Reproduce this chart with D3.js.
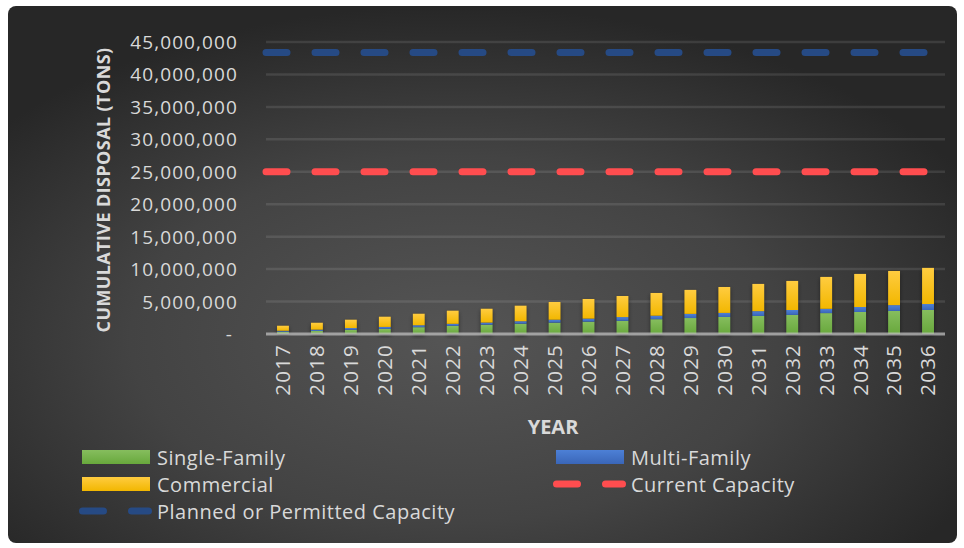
<!DOCTYPE html>
<html>
<head>
<meta charset="utf-8">
<script src="https://cdn.jsdelivr.net/npm/d3@7/dist/d3.min.js"></script>
<style>
  html, body { margin: 0; padding: 0; background: #ffffff; }
  svg { display: block; }
  text { font-family: "Open Sans", "Noto Sans", sans-serif; fill: #d9d9d9; }
</style>
</head>
<body>
<svg id="chart" width="964" height="548"></svg>
<script>
// ---- data (tons) ----
const years = ["2017","2018","2019","2020","2021","2022","2023","2024","2025","2026",
               "2027","2028","2029","2030","2031","2032","2033","2034","2035","2036"];
const singleFamily = [350000, 470000, 640000, 780000, 1050000, 1250000, 1430000, 1590000, 1750000, 1900000,
                      2030000, 2280000, 2460000, 2620000, 2780000, 2940000, 3220000, 3390000, 3550000, 3700000];
const multiFamily  = [150000, 200000, 280000, 310000, 300000, 320000, 330000, 380000, 450000, 470000,
                      580000, 540000, 640000, 630000, 740000, 760000, 660000, 770000, 900000, 920000];
const commercial   = [780000, 1070000, 1290000, 1580000, 1780000, 2030000, 2140000, 2400000, 2740000, 3030000,
                      3250000, 3510000, 3700000, 4000000, 4200000, 4480000, 4920000, 5100000, 5270000, 5570000];
const currentCapacity = 25000000;
const plannedCapacity = 43400000;
const yTicks = [0, 5000000, 10000000, 15000000, 20000000, 25000000, 30000000, 35000000, 40000000, 45000000];

const svg = d3.select("#chart");
const defs = svg.append("defs");

// background gradient
const bg = defs.append("radialGradient").attr("id", "bgGrad")
  .attr("cx", "47%").attr("cy", "62%").attr("r", "62%");
bg.append("stop").attr("offset", "0%").attr("stop-color", "#555555");
bg.append("stop").attr("offset", "55%").attr("stop-color", "#434343");
bg.append("stop").attr("offset", "100%").attr("stop-color", "#272727");

function vgrad(id, top, bottom) {
  const g = defs.append("linearGradient").attr("id", id)
    .attr("x1", 0).attr("y1", 0).attr("x2", 0).attr("y2", 1);
  g.append("stop").attr("offset", "0%").attr("stop-color", top);
  g.append("stop").attr("offset", "100%").attr("stop-color", bottom);
}
vgrad("gGreen", "#86bd5e", "#68a83c");
vgrad("gBlue", "#4d80d6", "#3a66b8");
vgrad("gYellow", "#ffcc40", "#f2b700");

const shadow = defs.append("filter").attr("id", "shadow")
  .attr("x", "-50%").attr("y", "-10%").attr("width", "200%").attr("height", "130%");
shadow.append("feDropShadow").attr("dx", 0).attr("dy", 2).attr("stdDeviation", 2)
  .attr("flood-color", "#000").attr("flood-opacity", 0.45);

svg.append("rect").attr("x", 8).attr("y", 6).attr("width", 949).attr("height", 537)
  .attr("rx", 8).attr("fill", "url(#bgGrad)");

// scales
const x = d3.scaleBand().domain(years).range([266, 945]).paddingInner(0.65).paddingOuter(0.325);
const y = d3.scaleLinear().domain([0, 45000000]).range([334, 42]);

// gridlines
svg.append("g").selectAll("line").data(yTicks.filter(d => d > 0)).join("line")
  .attr("x1", x.range()[0]).attr("x2", x.range()[1])
  .attr("y1", d => y(d)).attr("y2", d => y(d))
  .attr("stroke", "#ffffff").attr("stroke-opacity", 0.1).attr("stroke-width", 2.5);

// y axis labels
const fmt = d3.format(",");
const yAxis = d3.axisLeft(y).tickValues(yTicks).tickSize(0).tickPadding(0)
  .tickFormat(d => d === 0 ? "-" : fmt(d));
const yg = svg.append("g").attr("transform", "translate(238,0)").call(yAxis);
yg.select(".domain").remove();
yg.selectAll("text").attr("font-size", 19).attr("letter-spacing", 1.1)
  .attr("fill", "#d9d9d9").style("font-family", "'Open Sans', sans-serif")
  .attr("dy", "0.34em")
  .attr("x", d => d === 0 ? -5 : 0);

// stacked bars
const table = years.map((yr, i) => ({ year: yr, sf: singleFamily[i], mf: multiFamily[i], com: commercial[i] }));
const stack = d3.stack().keys(["sf", "mf", "com"])(table);
const fills = ["url(#gGreen)", "url(#gBlue)", "url(#gYellow)"];

const barsG = svg.append("g");
barsG.selectAll("rect.sh").data(table).join("rect").attr("class", "sh")
  .attr("x", d => x(d.year)).attr("width", x.bandwidth())
  .attr("y", d => y(d.sf + d.mf + d.com)).attr("height", d => y(0) - y(d.sf + d.mf + d.com))
  .attr("fill", "#333").attr("filter", "url(#shadow)");
stack.forEach((layer, li) => {
  barsG.selectAll("rect.l" + li).data(layer).join("rect").attr("class", "l" + li)
    .attr("x", d => x(d.data.year)).attr("width", x.bandwidth())
    .attr("y", d => y(d[1])).attr("height", d => y(d[0]) - y(d[1]))
    .attr("fill", fills[li]);
});

// baseline
svg.append("line").attr("x1", x.range()[0]).attr("x2", x.range()[1])
  .attr("y1", y(0)).attr("y2", y(0))
  .attr("stroke", "#bdbdbd").attr("stroke-opacity", 0.75).attr("stroke-width", 3);

// capacity lines
const lines = [
  { key: "Current Capacity", v: currentCapacity, color: "#ff4d4f" },
  { key: "Planned or Permitted Capacity", v: plannedCapacity, color: "#264a84" }
];
const lineGen = d3.line().x(d => d[0]).y(d => d[1]);
lines.forEach(l => {
  svg.append("path")
    .attr("d", lineGen([[x.range()[0], y(l.v)], [x.range()[1], y(l.v)]]))
    .attr("stroke", l.color).attr("stroke-width", 7).attr("stroke-linecap", "round")
    .attr("stroke-dasharray", "21 28").attr("fill", "none");
});

// x axis labels
const xAxis = d3.axisBottom(x).tickSize(0).tickPadding(0);
const xg = svg.append("g").attr("transform", `translate(0,${y(0)})`).call(xAxis);
xg.select(".domain").remove();
xg.selectAll("text").attr("font-size", 20.5).attr("letter-spacing", 1.2)
  .attr("fill", "#d9d9d9").style("font-family", "'Open Sans', sans-serif")
  .attr("text-anchor", "end").attr("transform", "rotate(-90)")
  .attr("x", -10).attr("y", 0).attr("dy", "0.36em");

// axis titles
svg.append("text").attr("transform", "translate(110,190) rotate(-90)")
  .attr("text-anchor", "middle").attr("font-size", 18).attr("font-weight", "bold")
  .attr("letter-spacing", 0.4)
  .text("CUMULATIVE DISPOSAL (TONS)");
svg.append("text").attr("x", 553).attr("y", 434)
  .attr("text-anchor", "middle").attr("font-size", 20).attr("font-weight", "bold")
  .text("YEAR");

// legend
const legendItems = [
  { key: "Single-Family", type: "rect", fill: "url(#gGreen)", x: 82, row: 0 },
  { key: "Multi-Family", type: "rect", fill: "url(#gBlue)", x: 556, row: 0 },
  { key: "Commercial", type: "rect", fill: "url(#gYellow)", x: 82, row: 1 },
  { key: "Current Capacity", type: "line", color: "#ff4d4f", x: 556, row: 1 },
  { key: "Planned or Permitted Capacity", type: "line", color: "#264a84", x: 82, row: 2 }
];
const lg = svg.append("g");
legendItems.forEach(it => {
  const cy = 457 + it.row * 27;
  if (it.type === "rect") {
    lg.append("rect").attr("x", it.x).attr("y", cy - 7).attr("width", 68).attr("height", 14)
      .attr("fill", it.fill);
  } else {
    lg.append("path").attr("d", lineGen([[it.x + 0.5, cy], [it.x + 66.5, cy]]))
      .attr("stroke", it.color).attr("stroke-width", 7).attr("stroke-linecap", "round")
      .attr("stroke-dasharray", "21 28").attr("fill", "none");
  }
  lg.append("text").attr("x", it.x + 75).attr("y", cy + 7.5).attr("font-size", 20)
    .attr("letter-spacing", 0.5)
    .text(it.key);
});
</script>
</body>
</html>
